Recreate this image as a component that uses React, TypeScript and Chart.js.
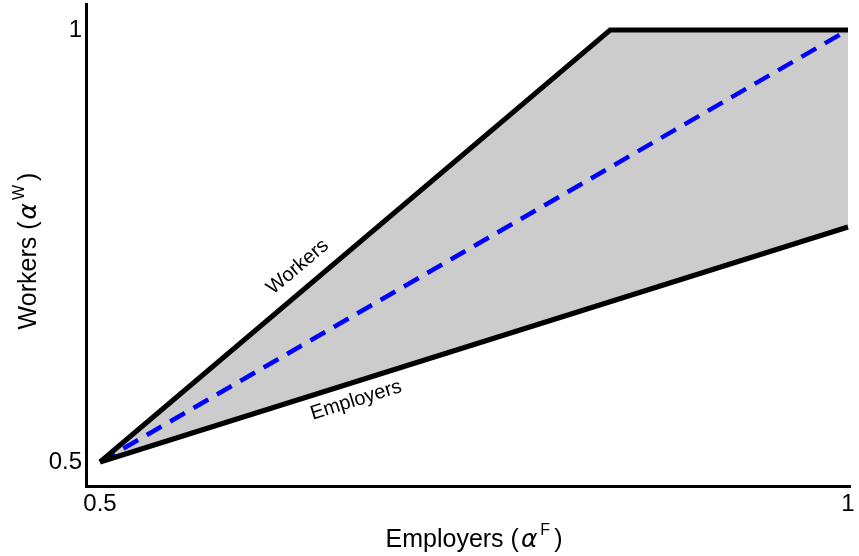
import React, { useEffect, useRef } from 'react';
import { Chart, registerables } from 'chart.js';

Chart.register(...registerables);

// ---- data ----
const workersX = [0.5, 0.841, 1];
const workersY = [0.5, 1, 1];
const employersX = [0.5, 1];
const employersY = [0.5, 0.772];
const equalX = [0.5, 1];
const equalY = [0.5, 1];

const xTickValues = [0.5, 1];
const xTickLabels = ['0.5', '1'];
const yTickValues = [0.5, 1];
const yTickLabels = ['0.5', '1'];

const xTitleText = 'Employers';
const xTitleSup = 'F';
const yTitleText = 'Workers';
const yTitleSup = 'W';

const workersLabel = 'Workers';
const employersLabel = 'Employers';
// anchor position (data x) along each line where the label sits
const workersLabelAt = 0.6413;
const employersLabelAt = 0.6676;

const FONT = '"Liberation Sans", Arial, Helvetica, sans-serif';
const GREEK = '"DejaVu Sans", "Liberation Sans", sans-serif';

const pts = (xs: number[], ys: number[]) => xs.map((x, i) => ({ x, y: ys[i] }));

function lineY(xs: number[], ys: number[], x: number) {
  for (let i = 0; i < xs.length - 1; i++) {
    if (x >= xs[i] && x <= xs[i + 1]) {
      const t = (x - xs[i]) / (xs[i + 1] - xs[i]);
      return ys[i] + t * (ys[i + 1] - ys[i]);
    }
  }
  return ys[ys.length - 1];
}

type Seg = { text: string; font: string; dy?: number; gap?: number; pre?: number };

function drawSegs(ctx: CanvasRenderingContext2D, segs: Seg[], cx: number, baseY: number) {
  let total = 0;
  const widths = segs.map((s) => {
    ctx.font = s.font;
    const w = (s.pre || 0) + ctx.measureText(s.text).width + (s.gap || 0);
    total += w;
    return w;
  });
  let x = cx - total / 2;
  ctx.textAlign = 'left';
  ctx.textBaseline = 'alphabetic';
  segs.forEach((s, i) => {
    ctx.font = s.font;
    ctx.fillText(s.text, x + (s.pre || 0), baseY + (s.dy || 0));
    x += widths[i];
  });
}

const annotate = {
  id: 'annotate',
  afterDraw(chart: any) {
    const ctx: CanvasRenderingContext2D = chart.ctx;
    const xs = chart.scales.x;
    const ys = chart.scales.y;
    ctx.save();
    ctx.fillStyle = '#000';

    const labelOnLine = (
      lx: number[], ly: number[], at: number, text: string, offset: number
    ) => {
      let i = 0;
      while (i < lx.length - 2 && at > lx[i + 1]) i++;
      const p0x = xs.getPixelForValue(lx[i]);
      const p0y = ys.getPixelForValue(ly[i]);
      const p1x = xs.getPixelForValue(lx[i + 1]);
      const p1y = ys.getPixelForValue(ly[i + 1]);
      const ang = Math.atan2(p1y - p0y, p1x - p0x);
      const fx = xs.getPixelForValue(at);
      const fy = ys.getPixelForValue(lineY(lx, ly, at));
      const cx = fx + offset * Math.sin(ang);
      const cy = fy - offset * Math.cos(ang);
      ctx.save();
      ctx.translate(cx, cy);
      ctx.rotate(ang);
      ctx.font = `20px ${FONT}`;
      ctx.textAlign = 'center';
      ctx.textBaseline = 'middle';
      ctx.fillText(text, 0, 0);
      ctx.restore();
    };
    labelOnLine(workersX, workersY, workersLabelAt, workersLabel, 21);
    labelOnLine(employersX, employersY, employersLabelAt, employersLabel, -18);

    const big = `25px ${FONT}`;
    const ital = `italic 25px ${GREEK}`;
    const small = `16px ${FONT}`;
    const titleSegs = (t: string, sup: string): Seg[] => [
      { text: t + ' (', font: big },
      { text: 'α', font: ital, pre: 2, gap: 3 },
      { text: sup, font: small, dy: -12, gap: 4 },
      { text: ')', font: big },
    ];

    // x title
    drawSegs(ctx, titleSegs(xTitleText, xTitleSup), 474, 547);

    // y title (rotated)
    ctx.save();
    ctx.translate(36, 251);
    ctx.rotate(-Math.PI / 2);
    drawSegs(ctx, titleSegs(yTitleText, yTitleSup), 0, 0);
    ctx.restore();

    ctx.restore();
  },
};

export default function App() {
  const ref = useRef<HTMLCanvasElement | null>(null);

  useEffect(() => {
    if (!ref.current) return;
    const workers = pts(workersX, workersY);
    const employers = pts(employersX, employersY);
    const region = [...workers, ...employers.slice().reverse()];

    const chart = new Chart(ref.current, {
      type: 'scatter',
      data: {
        datasets: [
          {
            label: 'region',
            data: region,
            showLine: true,
            fill: 'shape',
            backgroundColor: '#cccccc',
            borderWidth: 0,
            borderColor: 'rgba(0,0,0,0)',
            pointRadius: 0,
            clip: false,
            order: 4,
          } as any,
          {
            label: 'equal',
            data: pts(equalX, equalY),
            showLine: true,
            borderColor: '#0000ff',
            borderWidth: 4.5,
            borderDash: [17, 10],
            pointRadius: 0,
            fill: false,
            clip: false,
            order: 3,
          } as any,
          {
            label: 'workers',
            data: workers,
            showLine: true,
            borderColor: '#000000',
            borderWidth: 5,
            pointRadius: 0,
            fill: false,
            clip: false,
            order: 2,
          } as any,
          {
            label: 'employers',
            data: employers,
            showLine: true,
            borderColor: '#000000',
            borderWidth: 5,
            pointRadius: 0,
            fill: false,
            clip: false,
            order: 1,
          } as any,
        ],
      },
      options: {
        responsive: false,
        animation: false,
        layout: { padding: { top: 4, right: 9, left: 0, bottom: 0 } },
        plugins: {
          legend: { display: false },
          tooltip: { enabled: false },
        },
        elements: { line: { tension: 0 } },
        scales: {
          x: {
            type: 'linear',
            min: 0.49064,
            max: 1.00134,
            grid: { display: false, drawTicks: false },
            border: { display: true, color: '#000', width: 3 },
            ticks: {
              color: '#000',
              font: { size: 24, family: FONT },
              padding: 4,
              autoSkip: false,
              maxRotation: 0,
              callback: (v: any) => {
                const i = xTickValues.indexOf(Number(v));
                return i >= 0 ? xTickLabels[i] : '';
              },
            },
            afterBuildTicks: (s: any) => {
              s.ticks = xTickValues.map((v) => ({ value: v }));
            },
            afterFit: (s: any) => {
              s.height = 70;
              s.paddingLeft = 0;
              s.paddingRight = 0;
            },
          },
          y: {
            type: 'linear',
            min: 0.47222,
            max: 1.0301,
            grid: { display: false, drawTicks: false },
            border: { display: true, color: '#000', width: 3 },
            ticks: {
              color: '#000',
              font: { size: 24, family: FONT },
              padding: 4,
              autoSkip: false,
              callback: (v: any) => {
                const i = yTickValues.indexOf(Number(v));
                return i >= 0 ? yTickLabels[i] : '';
              },
            },
            afterBuildTicks: (s: any) => {
              s.ticks = yTickValues.map((v) => ({ value: v }));
            },
            afterFit: (s: any) => {
              s.width = 86;
              s.paddingTop = 0;
              s.paddingBottom = 0;
            },
          },
        },
      },
      plugins: [annotate],
    });
    return () => chart.destroy();
  }, []);

  return (
    <div style={{ position: 'absolute', left: 0, top: 0, width: 859, height: 556, background: '#fff' }}>
      <canvas ref={ref} width={859} height={556} />
    </div>
  );
}
